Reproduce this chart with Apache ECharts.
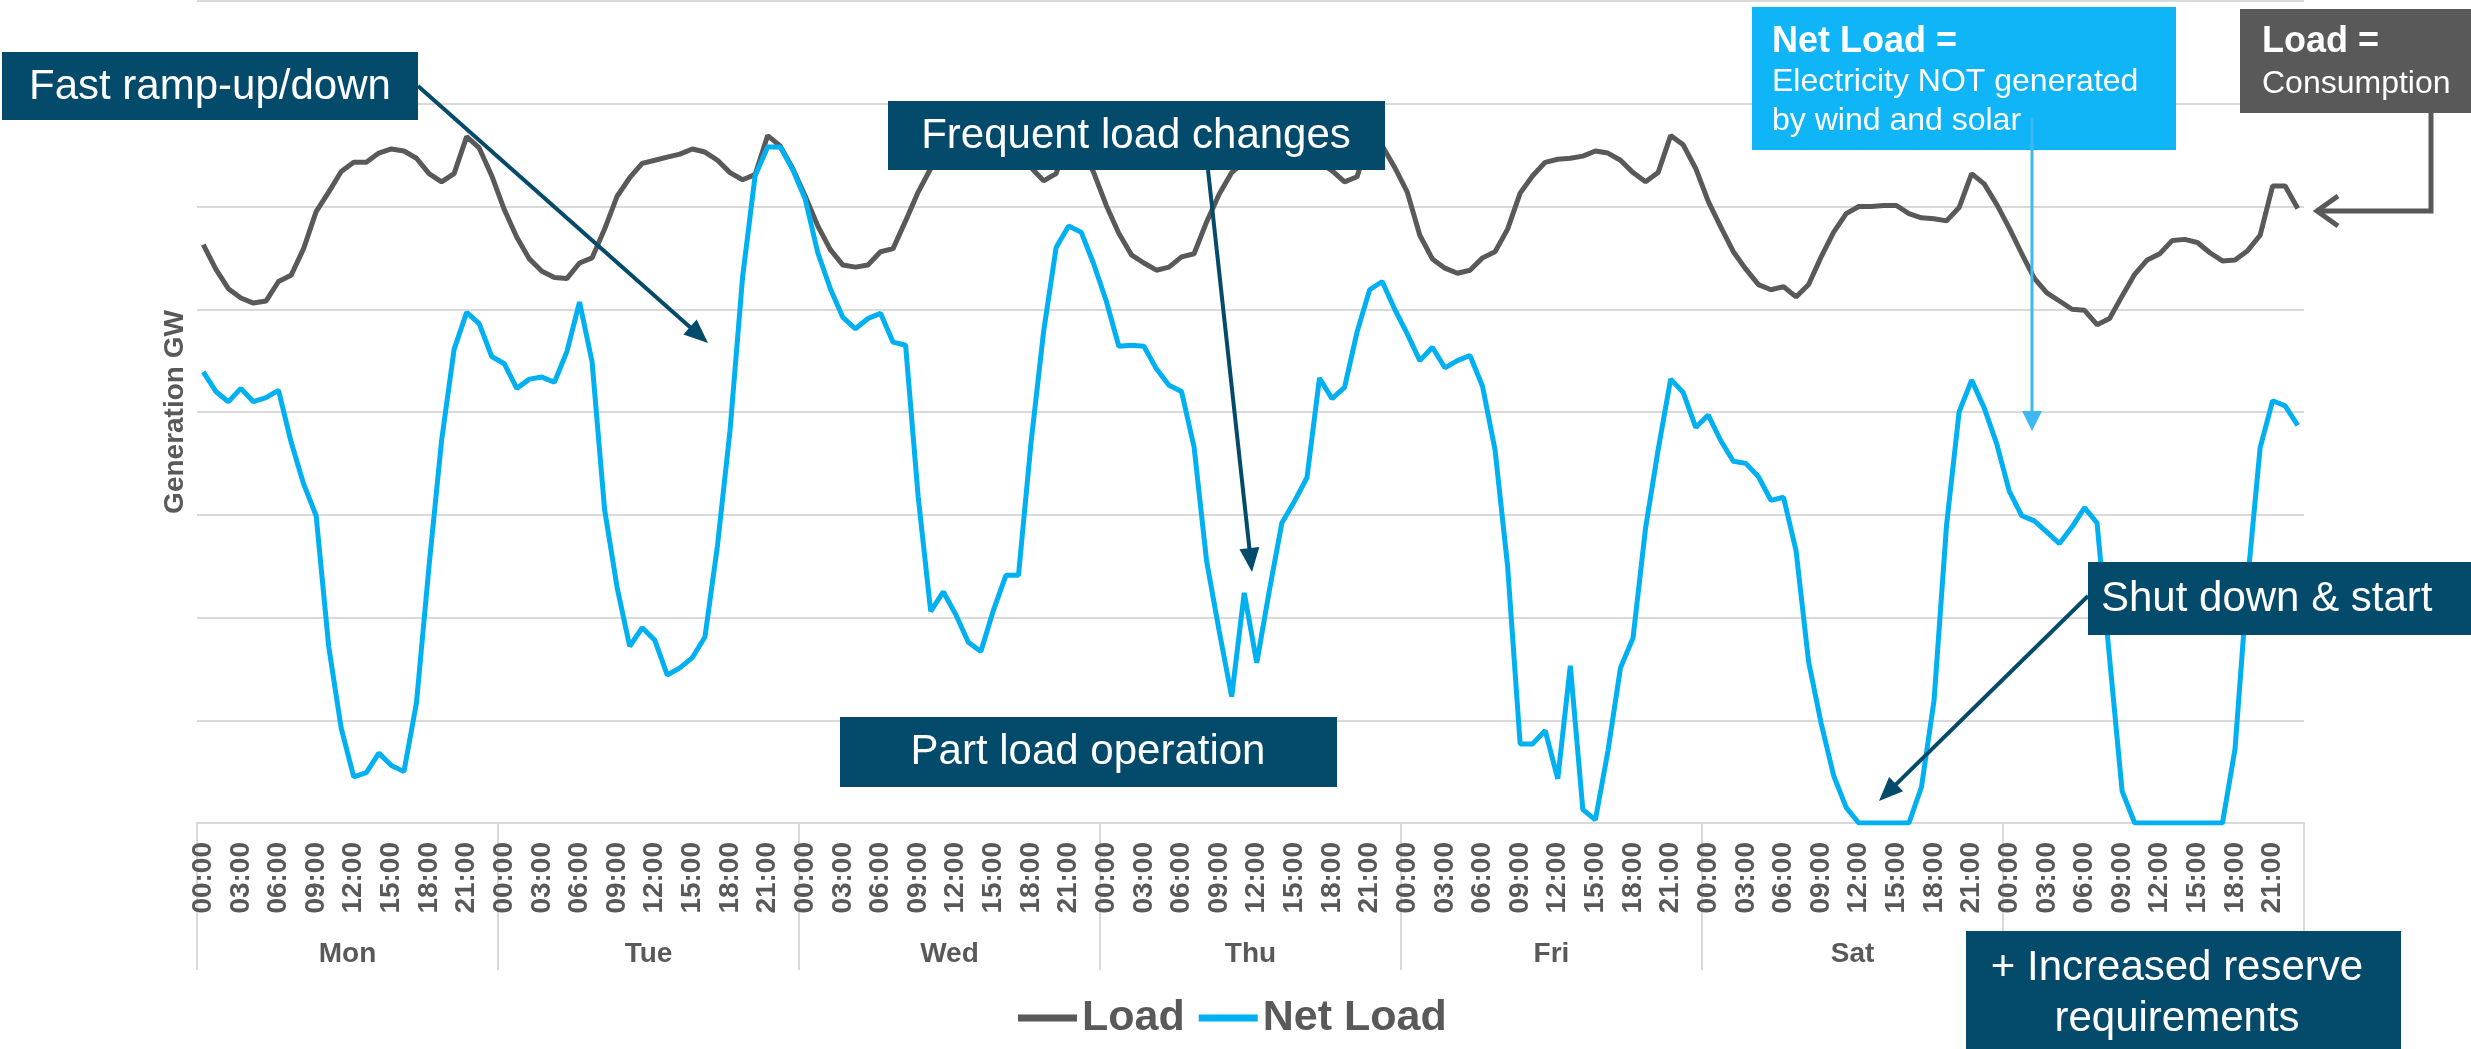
<!DOCTYPE html>
<html>
<head>
<meta charset="utf-8">
<title>Load vs Net Load – one week</title>
<script src="https://cdn.jsdelivr.net/npm/echarts@6/dist/echarts.min.js"></script>
<style>
  html, body { margin: 0; padding: 0; background: #ffffff; }
  #chart { width: 2471px; height: 1049px; }
</style>
</head>
<body>
<div id="chart"></div>
<script>
// ---- data -----------------------------------------------------------------
const DAYS = ['Mon', 'Tue', 'Wed', 'Thu', 'Fri', 'Sat', 'Sun'];
const HOURS = ['00:00', '01:00', '02:00', '03:00', '04:00', '05:00', '06:00', '07:00',
               '08:00', '09:00', '10:00', '11:00', '12:00', '13:00', '14:00', '15:00',
               '16:00', '17:00', '18:00', '19:00', '20:00', '21:00', '22:00', '23:00'];
const Y_TICKS = [0, 10, 20, 30, 40, 50, 60, 70, 80];

// Hourly consumption (GW), Monday 00:00 .. Sunday 23:00
const LOAD_GW = [
  56.3, 53.9, 52.0, 51.1, 50.6, 50.8, 52.7, 53.3, 55.9, 59.5, 61.4, 63.4, 64.3, 64.3, 65.2, 65.6, 65.4, 64.7, 63.2, 62.4, 63.2, 66.8, 65.7, 63.0,
  59.7, 57.0, 54.9, 53.7, 53.1, 53.0, 54.5, 55.0, 57.8, 61.0, 62.8, 64.2, 64.5, 64.8, 65.1, 65.6, 65.3, 64.5, 63.3, 62.6, 63.1, 66.9, 65.9, 63.7,
  61.0, 58.1, 55.8, 54.3, 54.1, 54.3, 55.6, 55.9, 58.6, 61.4, 63.7, 64.4, 64.7, 65.0, 65.3, 65.5, 65.0, 64.3, 63.8, 62.5, 63.2, 66.8, 65.8, 63.3,
  60.1, 57.4, 55.3, 54.5, 53.8, 54.1, 55.1, 55.4, 58.5, 61.2, 63.3, 64.4, 64.9, 65.1, 65.4, 65.6, 65.1, 64.3, 63.5, 62.4, 62.9, 66.9, 65.9, 63.8,
  61.4, 57.2, 54.9, 54.0, 53.5, 53.8, 55.0, 55.6, 57.8, 61.3, 63.0, 64.3, 64.6, 64.7, 64.9, 65.4, 65.2, 64.5, 63.3, 62.4, 63.3, 66.9, 66.0, 63.7,
  60.5, 58.0, 55.6, 53.9, 52.4, 51.9, 52.2, 51.2, 52.4, 55.1, 57.5, 59.3, 60.0, 60.0, 60.1, 60.1, 59.3, 58.9, 58.8, 58.6, 59.9, 63.2, 62.2, 60.2,
  57.9, 55.4, 53.0, 51.6, 50.8, 50.0, 49.9, 48.5, 49.1, 51.3, 53.4, 54.8, 55.4, 56.7, 56.8, 56.5, 55.5, 54.7, 54.8, 55.7, 57.2, 62.0, 62.0, 59.8
];

// Hourly load left after wind and solar (GW)
const NET_LOAD_GW = [
  43.9, 42.0, 41.0, 42.3, 41.0, 41.4, 42.1, 37.1, 33.0, 29.9, 17.2, 9.2, 4.5, 4.9, 6.8, 5.6, 5.0, 11.7, 25.0, 37.2, 46.1, 49.7, 48.6, 45.4,
  44.7, 42.3, 43.2, 43.4, 42.9, 45.9, 50.7, 44.9, 30.5, 22.9, 17.2, 19.0, 17.8, 14.4, 15.1, 16.1, 18.1, 27.0, 38.2, 53.1, 63.0, 65.8, 65.8, 63.6,
  60.7, 55.5, 52.0, 49.2, 48.1, 49.1, 49.6, 46.8, 46.5, 31.8, 20.6, 22.5, 20.3, 17.6, 16.7, 20.7, 24.1, 24.1, 37.0, 47.8, 56.0, 58.1, 57.5, 54.4,
  50.8, 46.4, 46.5, 46.4, 44.2, 42.6, 42.0, 36.6, 25.5, 18.7, 12.3, 22.4, 15.6, 22.6, 29.2, 31.3, 33.6, 43.3, 41.3, 42.4, 47.8, 51.9, 52.7, 50.0,
  47.6, 45.0, 46.3, 44.3, 45.0, 45.5, 42.5, 36.3, 25.0, 7.7, 7.7, 9.0, 4.3, 15.3, 1.3, 0.3, 7.0, 15.1, 18.0, 28.7, 36.3, 43.2, 41.9, 38.5,
  39.7, 37.2, 35.2, 35.0, 33.7, 31.4, 31.7, 26.5, 15.7, 9.7, 4.6, 1.5, 0, 0, 0, 0, 0, 3.5, 11.9, 29.0, 40.0, 43.1, 40.4, 36.9,
  32.3, 29.9, 29.4, 28.3, 27.2, 28.8, 30.7, 29.2, 16.0, 3.1, 0, 0, 0, 0, 0, 0, 0, 0, 7.2, 23.5, 36.5, 41.1, 40.6, 38.7
];

// ---- styling helpers --------------------------------------------------------
const FONT = '"Liberation Sans", Arial, Helvetica, sans-serif';
const GREY = '#595959';
const BLUE = '#00b0f0';
const TEAL = '#034a6b';
const GRID_LINE = '#d9d9d9';

// one category per hour of the week, e.g. "Tue 06:00"
const HOUR_CATEGORIES = DAYS.flatMap(d => HOURS.map(h => d + ' ' + h));

function box(x, y, w, h, fill) {
  return { type: 'rect', z: 100, silent: true, shape: { x: x, y: y, width: w, height: h }, style: { fill: fill } };
}
function label(x, y, text, font, align) {
  return {
    type: 'text', z: 101, silent: true, x: x, y: y,
    style: { text: text, fill: '#ffffff', font: font, align: align || 'left', verticalAlign: 'middle' }
  };
}
function arrow(x1, y1, x2, y2, color, width, headLen, headHalf) {
  const dx = x2 - x1, dy = y2 - y1, len = Math.hypot(dx, dy);
  const ux = dx / len, uy = dy / len;
  const bx = x2 - ux * headLen, by = y2 - uy * headLen;
  const px = -uy * headHalf, py = ux * headHalf;
  return [
    { type: 'line', z: 100, silent: true, shape: { x1: x1, y1: y1, x2: bx + ux * 2, y2: by + uy * 2 },
      style: { stroke: color, lineWidth: width } },
    { type: 'polygon', z: 100, silent: true,
      shape: { points: [[x2, y2], [bx + px, by + py], [bx - px, by - py]] }, style: { fill: color } }
  ];
}

const F42 = '42px ' + FONT;
const F32 = '32px ' + FONT;
const F36B = 'bold 36px ' + FONT;

const callouts = [].concat(
  // Fast ramp-up/down
  [box(2, 52, 416, 68, TEAL), label(29, 87, 'Fast ramp-up/down', F42)],
  arrow(418, 86, 708, 343, TEAL, 4, 24, 10),

  // Frequent load changes
  [box(888, 101, 497, 69, TEAL), label(1136, 136, 'Frequent load changes', F42, 'center')],
  arrow(1208, 170, 1252, 572, TEAL, 4, 24, 10),

  // Part load operation
  [box(840, 717, 497, 70, TEAL), label(1088, 752, 'Part load operation', F42, 'center')],

  // Shut down & start
  [box(2088, 562, 383, 73, TEAL), label(2101, 599, 'Shut down & start', F42)],
  arrow(2088, 596, 1879, 801, TEAL, 4, 24, 10),

  // Increased reserve requirements
  [box(1966, 931, 435, 118, TEAL),
   label(2177, 968, '+ Increased reserve', F42, 'center'),
   label(2177, 1019, 'requirements', F42, 'center')],

  // Net Load definition
  [box(1752, 7, 424, 143, '#0fb5f7'),
   label(1772, 42, 'Net Load =', F36B),
   label(1772, 82, 'Electricity NOT generated', F32),
   label(1772, 121, 'by wind and solar', F32)],
  arrow(2032, 118, 2032, 431, '#3db8f0', 3, 20, 10),

  // Load definition
  [box(2240, 9, 231, 104, GREY),
   label(2262, 42, 'Load =', F36B),
   label(2262, 84, 'Consumption', F32),
   { type: 'polyline', z: 100, silent: true,
     shape: { points: [[2431, 113], [2431, 211], [2318, 211]] },
     style: { stroke: GREY, lineWidth: 5, fill: null } },
   { type: 'polyline', z: 100, silent: true,
     shape: { points: [[2338, 196], [2317, 211], [2338, 226]] },
     style: { stroke: GREY, lineWidth: 5, fill: null } }]
);

// ---- chart ------------------------------------------------------------------
const chart = echarts.init(document.getElementById('chart'), null, { renderer: 'canvas' });

chart.setOption({
  animation: false,
  backgroundColor: '#ffffff',
  textStyle: { fontFamily: FONT },
  grid: { left: 197, right: 167, top: 1, bottom: 226, containLabel: false },
  legend: {
    data: ['Load', 'Net Load'],
    left: 1013,
    top: 991,
    icon: 'rect',
    itemWidth: 59,
    itemHeight: 7,
    itemGap: 14,
    textStyle: { color: GREY, fontWeight: 'bold', fontSize: 43, fontFamily: FONT, lineHeight: 44 }
  },
  xAxis: [
    {
      type: 'category',
      data: HOUR_CATEGORIES,
      boundaryGap: true,
      axisLine: { lineStyle: { color: GRID_LINE, width: 2 } },
      axisTick: { show: false },
      splitLine: { show: false },
      axisLabel: {
        interval: 2,
        rotate: 90,
        margin: 19,
        color: GREY,
        fontWeight: 'bold',
        fontSize: 28,
        fontFamily: FONT,
        formatter: v => v.split(' ')[1]
      }
    },
    {
      type: 'category',
      data: DAYS,
      position: 'bottom',
      boundaryGap: true,
      axisLine: { show: false },
      axisTick: { show: true, interval: 0, length: 147, lineStyle: { color: GRID_LINE, width: 2 } },
      splitLine: { show: false },
      axisLabel: { interval: 0, margin: 117, color: GREY, fontWeight: 'bold', fontSize: 28, fontFamily: FONT }
    }
  ],
  yAxis: {
    type: 'value',
    min: Y_TICKS[0],
    max: Y_TICKS[Y_TICKS.length - 1],
    interval: Y_TICKS[1] - Y_TICKS[0],
    name: 'Generation GW',
    nameLocation: 'middle',
    nameRotate: 90,
    nameGap: 8,
    nameTextStyle: { color: GREY, fontWeight: 'bold', fontSize: 28, fontFamily: FONT },
    axisLabel: { show: false },
    axisLine: { show: false },
    axisTick: { show: false },
    splitLine: { lineStyle: { color: GRID_LINE, width: 2 } }
  },
  series: [
    {
      name: 'Load',
      type: 'line',
      xAxisIndex: 0,
      data: LOAD_GW,
      symbol: 'none',
      z: 2,
      lineStyle: { color: GREY, width: 5 },
      itemStyle: { color: GREY }
    },
    {
      name: 'Net Load',
      type: 'line',
      xAxisIndex: 0,
      data: NET_LOAD_GW,
      symbol: 'none',
      z: 3,
      lineStyle: { color: BLUE, width: 5 },
      itemStyle: { color: BLUE }
    }
  ],
  graphic: callouts
});
</script>
</body>
</html>
